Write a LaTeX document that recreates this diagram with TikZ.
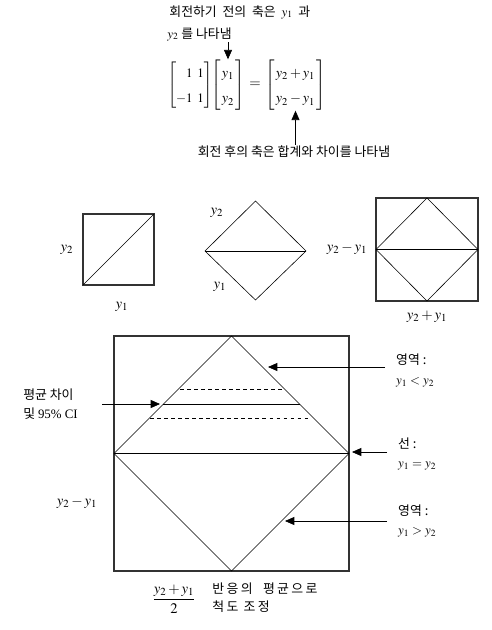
\documentclass[tikz,border=0pt]{standalone}
\usepackage{amsmath}
\usepackage{mathptmx}
\usepackage{fontspec}
\setmainfont{Liberation Serif}
\newfontfamily\kr{Noto Sans CJK KR}
\newfontfamily\krwide[LetterSpace=18]{Noto Sans CJK KR}
\usetikzlibrary{arrows.meta}
\renewcommand{\arraystretch}{1.5}

\begin{document}
\begin{tikzpicture}[x=0.03cm, y=-0.03cm,
        arrow/.style={-{Triangle[length=2.8mm, width=2.4mm]}, line width=0.6pt},
        ktext/.style={font=\kr\fontsize{11}{13}\selectfont, inner sep=1pt},
        mlab/.style={font=\fontsize{12.5}{14.5}\selectfont, inner sep=1pt},
        mat/.style={font=\fontsize{12}{14.5}\selectfont, inner sep=0pt},
        rlabel/.style={ktext, align=left, anchor=west, inner xsep=0.33cm},
        sqline/.style={line width=0.9pt, draw=black!80},
        dline/.style={line width=0.5pt}
    ]
        \useasboundingbox (0,0) rectangle (491,630);

        % Rotation
        \node[ktext, anchor=west] (before1) at (168,12) {회전하기\ \ 전의\ \ 축은\ \ $y_1$\ \ 과};
        \node[ktext, anchor=west] (before2) at (166,34) {$y_2$\ 를\ 나타냄};
        \node[mat, font=\fontsize{11}{14.5}\selectfont] (rotm) at (190,85) {\setlength{\arraycolsep}{2pt}$\left[\begin{array}{@{}rr@{}}1&1\\-1&1\end{array}\right]$};
        \node[mat] (vec) at (228,85) {$\left[\begin{array}{@{\,}c@{\,}}y_1\\y_2\end{array}\right]$};
        \node[mlab] (eq) at (255,85) {$=$};
        \node[mat] (res) at (295.5,85) {$\left[\begin{array}{@{\,}l@{\,}}y_2+y_1\\y_2-y_1\end{array}\right]$};
        \node[ktext] (after) at (294,152) {회전 후의 축은 합계와 차이를 나타냄};
        \draw[arrow] (before2.south -| vec.north) -- (vec.north);
        \draw[arrow] (after.north -| res.south) -- (res.south);

        % Small figures
        \draw[sqline] (83,214) rectangle (154,285);
        \draw[dline] (83,285) -- (154,214);
        \node[mlab] (sqy2) at (67,250) {$y_2$};
        \node[mlab] (sqy1) at (122,307) {$y_1$};

        \draw[dline] (205,251) -- (255.5,201) -- (306,251) -- (255.5,300) -- cycle;
        \draw[dline] (205,251) -- (306,251);
        \node[mlab] (dmy2) at (217,213) {$y_2$};
        \node[mlab] (dmy1) at (220,287) {$y_1$};

        \draw[sqline] (376,198) rectangle (478,301);
        \draw[dline] (376,249.5) -- (427,198) -- (478,249.5) -- (427,301) -- cycle;
        \draw[dline] (376,249.5) -- (478,249.5);
        \node[mlab] (rtdiff) at (347,249) {$y_2-y_1$};
        \node[mlab] (rtsum) at (427,317) {$y_2+y_1$};

        % Big figure
        \draw[sqline] (114,336) rectangle (349,571);
        \draw[dline] (114,453.5) -- (231.5,336) -- (349,453.5) -- (231.5,571) -- cycle;
        \draw[dline] (114,453.5) -- (349,453.5);
        \draw[dline, dashed] (180,389) -- (285,389);
        \draw[dline] (163,404) -- (300,404);
        \draw[dline, dashed] (150,418) -- (308,418);

        \coordinate (mdtip) at (160,404);
        \coordinate (lttip) at (268,367);
        \coordinate (eqtip) at (352,452);
        \coordinate (gttip) at (285,521);

        \node[ktext, align=left, anchor=east, inner xsep=0.72cm] (mdiff) at (102,404) {평균 차이\\[3pt]및 {\rmfamily 95\% CI}};
        \node[rlabel] (ltreg) at (385,370.5) {영역 :\\[4pt]$y_1<y_2$};
        \node[rlabel] (eqline) at (387,454) {선 :\\[4pt]$y_1=y_2$};
        \node[rlabel] (gtreg) at (387,521) {영역 :\\[4pt]$y_1>y_2$};
        \draw[arrow] (mdiff) -- (mdtip);
        \draw[arrow] (ltreg.west |- lttip) -- (lttip);
        \draw[arrow] (eqline.west |- eqtip) -- (eqtip);
        \draw[arrow] (gtreg.west |- gttip) -- (gttip);

        \node[mlab] (bigdiff) at (77,503) {$y_2-y_1$};
        \node[mlab] (bigmean) at (174,599) {$\dfrac{y_2+y_1}{2}$};
        \node[ktext, font=\krwide\fontsize{11}{13}\selectfont, align=left, anchor=west] (scale) at (211,597.5) {반응의\ \ 평균으로\\[2pt]척도 조정};
    \end{tikzpicture}
\end{document}
